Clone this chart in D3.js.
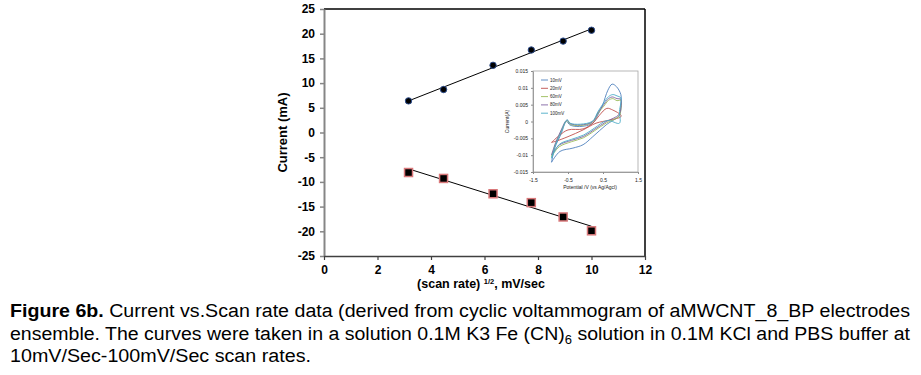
<!DOCTYPE html>
<html>
<head>
<meta charset="utf-8">
<script src="https://cdn.jsdelivr.net/npm/d3@7"></script>
<style>
  body { margin: 0; background: #fff; }
  svg { display: block; }
</style>
</head>
<body>
<svg id="chart" width="921" height="375"></svg>
<script>
// main chart data: sqrt(scan rate) vs peak current
var rootScan = [3.16, 4.47, 6.32, 7.75, 8.94, 10.0];
var anodic   = [6.4, 8.7, 13.6, 16.7, 18.5, 20.7];
var cathodic = [-8.1, -9.3, -12.4, -14.2, -17.1, -19.9];

var xTicks = [0, 2, 4, 6, 8, 10, 12];
var yTicks = [25, 20, 15, 10, 5, 0, -5, -10, -15, -20, -25];

// inset: cyclic voltammograms (potential V, current A)
var cvNames = ["10mV", "20mV", "60mV", "80mV", "100mV"];
var cvColors = ["#4f81bd", "#c0504d", "#9bbb59", "#8064a2", "#4bacc6"];
var cv10 = [[-0.97,-0.0121],[-0.88,-0.0079],[-0.69,-0.0035],[-0.58,-0.0004],[-0.53,0.0000],[-0.45,-0.0010],[-0.17,-0.0015],[0.21,-0.0005],[0.35,0.0019],[0.49,0.0049],[0.64,0.0093],[0.76,0.0111],[0.88,0.0104],[1.01,0.0080],[1.01,0.0050],[0.97,0.0019],[0.59,-0.0010],[0.21,-0.0045],[-0.07,-0.0069],[-0.36,-0.0079],[-0.73,-0.0089],[-0.97,-0.0121]];
var cv20 = [[-0.97,-0.0062],[-0.73,-0.0040],[-0.50,-0.0025],[-0.07,-0.0022],[0.21,-0.0005],[0.40,0.0019],[0.61,0.0039],[0.78,0.0034],[1.01,0.0019],[1.01,0.0014],[0.68,0.0004],[0.30,-0.0005],[-0.07,-0.0025],[-0.50,-0.0045],[-0.83,-0.0058],[-0.97,-0.0062]];
var cv60 = [[-0.97,-0.0104],[-0.85,-0.0065],[-0.68,-0.0025],[-0.57,-0.0001],[-0.52,0.0003],[-0.44,-0.0008],[-0.15,-0.0012],[0.20,-0.0002],[0.36,0.0025],[0.52,0.0045],[0.66,0.0063],[0.78,0.0068],[0.90,0.0062],[1.01,0.0063],[1.01,0.0035],[0.95,0.0015],[0.60,-0.0004],[0.25,-0.0028],[-0.05,-0.0048],[-0.40,-0.0060],[-0.75,-0.0075],[-0.97,-0.0104]];
var cv80 = [[-0.97,-0.0099],[-0.85,-0.0062],[-0.68,-0.0022],[-0.57,0.0001],[-0.52,0.0004],[-0.44,-0.0006],[-0.15,-0.0010],[0.20,-0.0001],[0.36,0.0027],[0.52,0.0050],[0.66,0.0068],[0.76,0.0073],[0.90,0.0068],[1.01,0.0066],[1.01,0.0040],[0.95,0.0020],[0.60,0.0000],[0.25,-0.0024],[-0.05,-0.0044],[-0.40,-0.0056],[-0.75,-0.0070],[-0.97,-0.0099]];
var cv100 = [[-0.97,-0.0109],[-0.86,-0.0070],[-0.68,-0.0028],[-0.57,0.0000],[-0.52,0.0005],[-0.44,-0.0005],[-0.15,-0.0008],[0.20,0.0001],[0.36,0.0030],[0.52,0.0055],[0.66,0.0074],[0.78,0.0080],[0.90,0.0076],[1.01,0.0070],[0.97,0.0030],[0.97,-0.0005],[0.62,0.0003],[0.25,-0.0020],[-0.05,-0.0040],[-0.40,-0.0053],[-0.75,-0.0068],[-0.97,-0.0109]];
var cvData = [cv10, cv20, cv60, cv80, cv100];

var insetXTicks = [-1.5, -0.5, 0.5, 1.5];
var insetYTicks = [0.015, 0.01, 0.005, 0, -0.005, -0.01, -0.015];

var svg = d3.select("#chart");
var font = "'Liberation Sans', Arial, sans-serif";

// plain hyphen minus, like the original
function plain(d){ return String(d); }

// scales for the main plot
var x = d3.scaleLinear().domain([0, 12]).range([324, 645]);
var y = d3.scaleLinear().domain([-25, 25]).range([256, 9]);

// frame: top + right black
svg.append("line").attr("x1", x(0)).attr("x2", x(12)).attr("y1", y(25)).attr("y2", y(25))
    .attr("stroke", "#000").attr("stroke-width", 1.5);
svg.append("line").attr("x1", x(12)).attr("x2", x(12)).attr("y1", y(25)).attr("y2", y(-25))
    .attr("stroke", "#000").attr("stroke-width", 1.5);

// axes
var yAxis = d3.axisLeft(y).tickValues(yTicks).tickFormat(plain).tickSize(4).tickSizeOuter(0).tickPadding(5);
var xAxis = d3.axisBottom(x).tickValues(xTicks).tickFormat(plain).tickSize(4).tickSizeOuter(0).tickPadding(5);

var gy = svg.append("g").attr("transform", "translate(" + x(0) + ",0)").call(yAxis);
gy.select(".domain").attr("stroke", "#868686").attr("stroke-width", 2);
gy.selectAll(".tick line").attr("stroke", "#868686").attr("stroke-width", 1.5);

var gx = svg.append("g").attr("transform", "translate(0," + y(-25) + ")").call(xAxis);
gx.select(".domain").attr("stroke", "#404040").attr("stroke-width", 1.5);
gx.selectAll(".tick line").attr("stroke", "#404040").attr("stroke-width", 1.2);

svg.selectAll(".tick text")
    .attr("font-family", font).attr("font-size", 12).attr("font-weight", "bold").attr("fill", "#000");

// axis titles
svg.append("text")
    .attr("transform", "translate(287," + y(0) + ") rotate(-90)")
    .attr("text-anchor", "middle")
    .attr("font-family", font).attr("font-size", 13).attr("font-weight", "bold")
    .text("Current (mA)");

var xt = svg.append("text")
    .attr("x", 481).attr("y", 288)
    .attr("text-anchor", "middle")
    .attr("font-family", font).attr("font-size", 12.5).attr("font-weight", "bold");
xt.append("tspan").text("(scan rate) ");
xt.append("tspan").attr("font-size", 7.5).attr("dy", -4).text("1/2");
xt.append("tspan").attr("dy", 4).text(", mV/sec");

// least squares trend line
function trend(xs, ys){
    var mx = d3.mean(xs), my = d3.mean(ys);
    var sxy = d3.sum(xs, function(v, i){ return (v - mx) * (ys[i] - my); });
    var sxx = d3.sum(xs, function(v){ return (v - mx) * (v - mx); });
    var b = sxy / sxx, a = my - b * mx;
    var x0 = d3.min(xs), x1 = d3.max(xs);
    return [[x0, a + b * x0], [x1, a + b * x1]];
}

var line = d3.line()
    .x(function(d){ return x(d[0]); })
    .y(function(d){ return y(d[1]); });

[anodic, cathodic].forEach(function(vals){
    svg.append("path")
        .datum(trend(rootScan, vals))
        .attr("d", line)
        .attr("fill", "none").attr("stroke", "#000").attr("stroke-width", 1);
});

// anodic points: round markers
svg.selectAll("circle.an")
    .data(rootScan)
    .enter().append("circle")
    .attr("class", "an")
    .attr("cx", function(d){ return x(d); })
    .attr("cy", function(d, i){ return y(anodic[i]); })
    .attr("r", 3.2)
    .attr("fill", "#000").attr("stroke", "#2f4f8f").attr("stroke-width", 1);

// cathodic points: square markers
svg.selectAll("rect.ca")
    .data(rootScan)
    .enter().append("rect")
    .attr("class", "ca")
    .attr("x", function(d){ return x(d) - 4; })
    .attr("y", function(d, i){ return y(cathodic[i]) - 4; })
    .attr("width", 8).attr("height", 8)
    .attr("fill", "#000").attr("stroke", "#d9787a").attr("stroke-width", 1.5);

// ---- inset ----
var ix = d3.scaleLinear().domain([-1.5, 1.5]).range([533, 638]);
var iy = d3.scaleLinear().domain([-0.015, 0.015]).range([172, 71]);

svg.append("rect")
    .attr("x", ix(-1.5)).attr("y", iy(0.015))
    .attr("width", ix(1.5) - ix(-1.5)).attr("height", iy(-0.015) - iy(0.015))
    .attr("fill", "#fff").attr("stroke", "#a6a6a6").attr("stroke-width", 0.8);

var iyAxis = d3.axisLeft(iy).tickValues(insetYTicks).tickFormat(plain).tickSize(2).tickSizeOuter(0).tickPadding(3);
var ixAxis = d3.axisBottom(ix).tickValues(insetXTicks).tickFormat(plain).tickSize(2).tickSizeOuter(0).tickPadding(4);

var giy = svg.append("g").attr("transform", "translate(" + ix(-1.5) + ",0)").call(iyAxis);
var gix = svg.append("g").attr("transform", "translate(0," + iy(-0.015) + ")").call(ixAxis);
[giy, gix].forEach(function(g){
    g.select(".domain").attr("stroke", "#8c8c8c").attr("stroke-width", 0.8);
    g.selectAll(".tick line").attr("stroke", "#8c8c8c");
    g.selectAll(".tick text").attr("font-family", font).attr("font-size", 5).attr("fill", "#222");
});

svg.append("text")
    .attr("transform", "translate(509," + iy(0) + ") rotate(-90)")
    .attr("text-anchor", "middle")
    .attr("font-family", font).attr("font-size", 5).attr("fill", "#222")
    .text("Current(A)");

svg.append("text")
    .attr("x", 590).attr("y", 189)
    .attr("text-anchor", "middle")
    .attr("font-family", font).attr("font-size", 5).attr("fill", "#222")
    .text("Potential /V (vs Ag/Agcl)");

var cvLine = d3.line()
    .x(function(d){ return ix(d[0]); })
    .y(function(d){ return iy(d[1]); })
    .curve(d3.curveCatmullRom.alpha(0.5));

svg.append("g").selectAll("path")
    .data(cvData)
    .enter().append("path")
    .attr("d", cvLine)
    .attr("fill", "none")
    .attr("stroke", function(d, i){ return cvColors[i]; })
    .attr("stroke-width", 0.9);

// inset legend
var leg = svg.append("g").selectAll("g")
    .data(cvNames)
    .enter().append("g")
    .attr("transform", function(d, i){ return "translate(541," + (80 + i * 8.3) + ")"; });
leg.append("line")
    .attr("x1", 0).attr("x2", 7)
    .attr("stroke", function(d, i){ return cvColors[i]; }).attr("stroke-width", 0.9);
leg.append("text")
    .attr("x", 9).attr("dy", "0.35em")
    .attr("font-family", font).attr("font-size", 4.5).attr("fill", "#222")
    .text(function(d){ return d; });

// ---- caption ----
var capFont = "'Liberation Sans Narrow', 'Liberation Sans', Arial, sans-serif";
var c1 = svg.append("text")
    .attr("x", 10).attr("y", 317)
    .attr("font-family", capFont).attr("font-size", 18)
    .attr("textLength", 900).attr("lengthAdjust", "spacingAndGlyphs");
c1.append("tspan").attr("font-weight", "bold").text("Figure 6b.");
c1.append("tspan").text(" Current vs.Scan rate data (derived from cyclic voltammogram of aMWCNT_8_BP electrodes");

var c2 = svg.append("text")
    .attr("x", 10).attr("y", 340)
    .attr("font-family", capFont).attr("font-size", 18)
    .attr("textLength", 900).attr("lengthAdjust", "spacingAndGlyphs");
c2.append("tspan").text("ensemble. The curves were taken in a solution 0.1M K3 Fe (CN)");
c2.append("tspan").attr("font-size", 12).attr("dy", 4).text("6");
c2.append("tspan").attr("dy", -4).text(" solution in 0.1M KCl and PBS buffer at");

svg.append("text")
    .attr("x", 10).attr("y", 362)
    .attr("font-family", capFont).attr("font-size", 18)
    .attr("textLength", 301).attr("lengthAdjust", "spacingAndGlyphs")
    .text("10mV/Sec-100mV/Sec scan rates.");
</script>
</body>
</html>
